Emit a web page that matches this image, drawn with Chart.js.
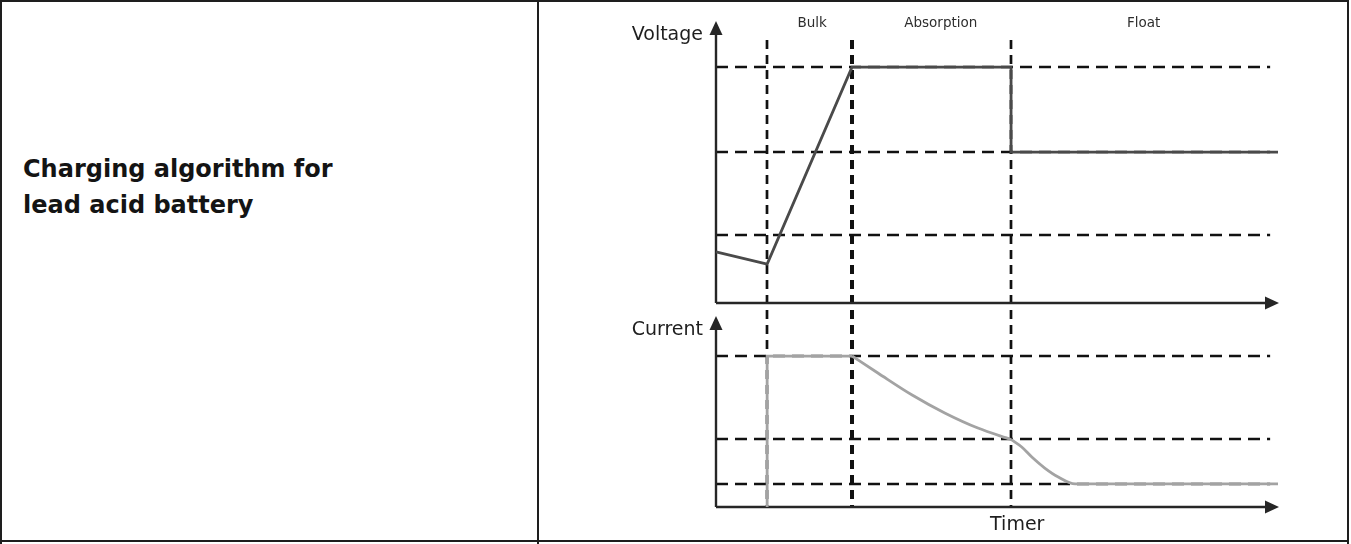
<!DOCTYPE html>
<html>
<head>
<meta charset="utf-8">
<title>Charging algorithm for lead acid battery</title>
<script src="https://cdn.jsdelivr.net/npm/chart.js@4.4.1/dist/chart.umd.min.js"></script>
<style>
  body {
    margin: 0;
    width: 1351px;
    height: 544px;
    overflow: hidden;
    position: relative;
    background: #ffffff;
    font-family: "DejaVu Sans", Verdana, sans-serif;
  }
  .frame {
    position: absolute;
    left: 0;
    top: 0;
    width: 1349px;
    height: 542px;
    border: 2px solid #1e1e1e;
    box-sizing: border-box;
  }
  .rule {
    position: absolute;
    background: #1e1e1e;
    width: 2px;
  }
  .title {
    position: absolute;
    left: 23px;
    top: 151px;
    font-weight: bold;
    font-size: 24px;
    line-height: 36px;
    color: #141414;
  }
  #chartBox {
    position: absolute;
    left: 540px;
    top: 0;
  }
</style>
</head>
<body>
<div class="frame"></div>
<div class="rule" style="left:537px; top:0; height:544px;"></div>
<div class="rule" style="left:0; top:540px; height:4px;"></div>
<div class="rule" style="left:1347px; top:540px; height:4px;"></div>
<div class="title">Charging algorithm for<br>lead acid battery</div>
<canvas id="chartBox" width="806" height="540"></canvas>

<script>
// Time axis (relative units, 0 = origin, 100 = end of arrow)
const phaseNames = ["Bulk", "Absorption", "Float"];
const phaseLabelX = [17.1, 40.0, 76.1];
const phaseBounds = [9.1, 24.2, 52.5];
const levelEnd = 98.6;

// Voltage curve (relative units)
const voltageX = [0, 9.1, 24.2, 52.5, 52.5, 100];
const voltageY = [19.4, 14.8, 89.7, 89.7, 57.4, 57.4];
const voltageLevels = [89.7, 57.4, 25.9];

// Current curve (relative units): constant step, absorption decay, float tail
const currentStepX = [9.1, 9.1, 24.2];
const currentStepY = [0, 74.0, 74.0];
const currentDecayX = [24.2, 28.8, 34.9, 40.7, 46.6, 52.5];
const currentDecayY = [74.0, 65.7, 54.9, 46.1, 38.7, 33.1];
const currentTailX = [52.5, 54.4, 56.2, 58.5, 60.9, 63.9, 100];
const currentTailY = [33.1, 29.4, 24.5, 19.1, 14.7, 11.3, 11.3];
const currentLevels = [74.0, 33.1, 11.3];

const toPoints = (xs, ys) => xs.map((x, i) => ({ x: x, y: ys[i] }));

function strokeLine(ctx, x1, y1, x2, y2) {
  ctx.beginPath();
  ctx.moveTo(x1, y1);
  ctx.lineTo(x2, y2);
  ctx.stroke();
}

function arrowHead(ctx, x, y, dir) {
  // dir: "up" or "right"
  ctx.beginPath();
  if (dir === "up") {
    ctx.moveTo(x, y);
    ctx.lineTo(x - 6.5, y + 14);
    ctx.lineTo(x + 6.5, y + 14);
  } else {
    ctx.moveTo(x, y);
    ctx.lineTo(x - 14, y - 6.5);
    ctx.lineTo(x - 14, y + 6.5);
  }
  ctx.closePath();
  ctx.fill();
}

function currentSet(xs, ys, mode) {
  return {
    label: "Current",
    data: toPoints(xs, ys),
    yAxisID: "yI",
    borderColor: "#a3a3a3",
    borderWidth: 2.8,
    pointRadius: 0,
    tension: mode ? 0.4 : 0,
    cubicInterpolationMode: mode || "default",
    fill: false,
    clip: false,
  };
}

// Dashed guides, axes with arrows and the texts
const diagramPlugin = {
  id: "diagram",
  beforeDatasetsDraw(chart) {
    const { ctx, chartArea, scales } = chart;
    const x = scales.x;
    const yV = scales.yV;
    const yI = scales.yI;
    const x0 = x.getPixelForValue(0);
    const xEnd = x.getPixelForValue(levelEnd);

    ctx.save();
    ctx.strokeStyle = "#111111";

    // horizontal levels
    ctx.lineWidth = 2.7;
    ctx.setLineDash([12, 7]);
    voltageLevels.forEach((v) => {
      const py = Math.round(yV.getPixelForValue(v));
      strokeLine(ctx, x0, py, xEnd, py);
    });
    currentLevels.forEach((v) => {
      const py = Math.round(yI.getPixelForValue(v));
      strokeLine(ctx, x0, py, xEnd, py);
    });

    // phase boundaries
    ctx.setLineDash([9, 6]);
    phaseBounds.forEach((b, i) => {
      const px = Math.round(x.getPixelForValue(b));
      ctx.lineWidth = i === 1 ? 4 : 2.7;
      strokeLine(ctx, px, chartArea.top, px, chartArea.bottom + 1);
    });

    // axes
    ctx.setLineDash([]);
    ctx.lineWidth = 2.4;
    ctx.strokeStyle = "#262626";
    ctx.fillStyle = "#262626";
    const xRight = x.getPixelForValue(100) + 1;
    const vBase = Math.round(yV.getPixelForValue(0));
    const iBase = Math.round(yI.getPixelForValue(0));
    strokeLine(ctx, x0, vBase, xRight - 8, vBase);
    strokeLine(ctx, x0, vBase, x0, yV.top - 10);
    arrowHead(ctx, xRight, vBase, "right");
    arrowHead(ctx, x0, yV.top - 19, "up");
    strokeLine(ctx, x0, iBase, xRight - 8, iBase);
    strokeLine(ctx, x0, iBase, x0, yI.top + 22);
    arrowHead(ctx, xRight, iBase, "right");
    arrowHead(ctx, x0, yI.top + 13, "up");
    ctx.restore();
  },
  afterDraw(chart) {
    const { ctx, scales } = chart;
    const x = scales.x;
    const yV = scales.yV;
    const yI = scales.yI;
    const x0 = x.getPixelForValue(0);

    ctx.save();
    ctx.fillStyle = "#1e1e1e";
    ctx.font = '19px "DejaVu Sans"';
    ctx.textBaseline = "alphabetic";
    ctx.textAlign = "right";
    ctx.fillText("Voltage", x0 - 13, yV.top);
    ctx.fillText("Current", x0 - 13, yI.top + 32);
    ctx.textAlign = "center";
    ctx.fillText("Timer", x.getPixelForValue(53.6), yI.bottom + 23);

    ctx.fillStyle = "#2e2e2e";
    ctx.font = '13.5px "DejaVu Sans"';
    phaseNames.forEach((name, i) => {
      ctx.fillText(name, x.getPixelForValue(phaseLabelX[i]), 27);
    });
    ctx.restore();
  },
};

const ctx = document.getElementById("chartBox").getContext("2d");
const chargeChart = new Chart(ctx, {
  type: "line",
  data: {
    datasets: [
      {
        label: "Voltage",
        data: toPoints(voltageX, voltageY),
        yAxisID: "yV",
        borderColor: "#4a4a4a",
        borderWidth: 2.8,
        pointRadius: 0,
        tension: 0,
        fill: false,
        clip: false,
      },
      currentSet(currentStepX, currentStepY, null),
      currentSet(currentDecayX, currentDecayY, "monotone"),
      currentSet(currentTailX, currentTailY, "monotone"),
    ],
  },
  options: {
    responsive: false,
    animation: false,
    events: [],
    layout: {
      padding: { left: 176, right: 68, top: 40, bottom: 33 },
    },
    plugins: {
      legend: { display: false },
      tooltip: { enabled: false },
    },
    scales: {
      x: { type: "linear", min: 0, max: 100, display: false },
      // stacked: the last one is placed on top
      yI: { type: "linear", min: 0, max: 100, display: false, stack: "main", stackWeight: 204 },
      yV: { type: "linear", min: 0, max: 100, display: false, stack: "main", stackWeight: 263 },
    },
  },
  plugins: [diagramPlugin],
});
</script>
</body>
</html>
